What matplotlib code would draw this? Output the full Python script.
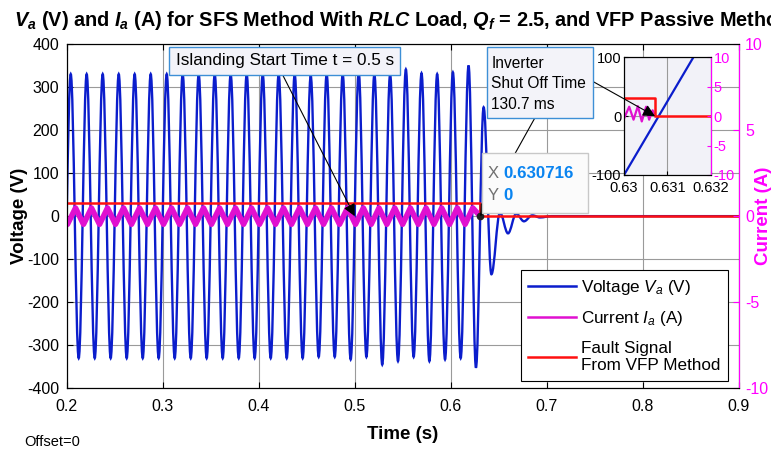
import matplotlib
matplotlib.use('Agg')
import matplotlib.pyplot as plt
from matplotlib.path import Path
from matplotlib.patches import PathPatch, Rectangle
from matplotlib.lines import Line2D

plt.rcParams['font.family'] = ['Liberation Sans', 'DejaVu Sans']
plt.rcParams['axes.unicode_minus'] = False
plt.rcParams['mathtext.fontset'] = 'custom'
plt.rcParams['mathtext.rm'] = 'Liberation Sans'
plt.rcParams['mathtext.it'] = 'Liberation Sans:italic'
plt.rcParams['mathtext.bf'] = 'Liberation Sans:bold:italic'

######################################################################
#####     DATA     ###########################
######################################################################

# voltage V_a: times (s) and values (V) of each peak / trough
v_t = [0.1958, 0.2042, 0.2125, 0.2208, 0.2292, 0.2375, 0.2458, 0.2542, 0.2625, 0.2708,
       0.2792, 0.2875, 0.2958, 0.3042, 0.3125, 0.3208, 0.3292, 0.3375, 0.3458, 0.3542,
       0.3625, 0.3708, 0.3792, 0.3875, 0.3958, 0.4042, 0.4125, 0.4208, 0.4292, 0.4375,
       0.4458, 0.4542, 0.4625, 0.4708, 0.4792, 0.4875, 0.4958, 0.5042, 0.5122, 0.5205,
       0.5287, 0.5369, 0.5451, 0.5533, 0.5614, 0.5696, 0.5778, 0.5859, 0.5941, 0.6023,
       0.6104, 0.6186, 0.6263, 0.6343, 0.6424, 0.6513, 0.6597, 0.6683, 0.6763, 0.6850,
       0.6930, 0.7050, 0.9000]
v_val = [-330, 330, -330, 330, -330, 330, -330, 330, -330, 330,
         -330, 330, -330, 330, -330, 330, -330, 330, -330, 330,
         -330, 330, -330, 330, -330, 330, -330, 330, -330, 330,
         -330, 326, -327, 330, -327, 330, -333, 334, -327, 330,
         -345, 330, -337, 341, -327, 332, -337, 330, -333, 334,
         -330, 350, -352, 253, -135, 8, -40, 6, -12, 2,
         -3, 0, 0]

# current I_a, read against the voltage scale (it is drawn on it)
i_t = [0.2000, 0.2008, 0.2092, 0.2175, 0.2258, 0.2342, 0.2425, 0.2508, 0.2592, 0.2675,
       0.2758, 0.2842, 0.2925, 0.3008, 0.3092, 0.3175, 0.3258, 0.3342, 0.3425, 0.3508,
       0.3592, 0.3675, 0.3758, 0.3842, 0.3925, 0.4008, 0.4092, 0.4175, 0.4258, 0.4342,
       0.4425, 0.4508, 0.4592, 0.4675, 0.4758, 0.4842, 0.4925, 0.5008, 0.5090, 0.5172,
       0.5253, 0.5335, 0.5417, 0.5499, 0.5580, 0.5662, 0.5743, 0.5825, 0.5906, 0.5988,
       0.6069, 0.6150, 0.6230, 0.6307]
i_val = [-17, -19, 19, -19, 19, -19, 19, -19, 19, -19,
         19, -19, 19, -19, 19, -19, 19, -19, 19, -19,
         19, -19, 19, -19, 19, -19, 19, -19, 19, -19,
         19, -19, 19, -19, 19, -19, 19, -19, 19, -19,
         19, -19, 19, -19, 19, -19, 19, -19, 19, -19,
         19, -19, 19, 0]

trip_t = 0.630716

# fault signal from the VFP method
fault_t = [0.2, trip_t, trip_t, 0.9]
fault_val = [30, 30, 0, 0]

# zoomed inset around the shut off
inset_v_t = [0.63, 0.6316]
inset_v = [-100, 100]
inset_i_t = [0.63, 0.63012, 0.63022, 0.63032, 0.63041, 0.63051, 0.63058, 0.63066, trip_t]
inset_i = [-4, 16, -6, 17, -9, 16, -6, 10, 0]
inset_fault_t = [0.63, trip_t, trip_t, 0.632]
inset_fault = [30, 30, 0, 0]

x_ticks = [0.2, 0.3, 0.4, 0.5, 0.6, 0.7, 0.8, 0.9]
v_ticks = [-400, -300, -200, -100, 0, 100, 200, 300, 400]
i_ticks = [-10, -5, 0, 5, 10]
inset_x_ticks = [0.63, 0.631, 0.632]
inset_v_ticks = [-100, 0, 100]

blue = '#0b1dcc'
mag = '#e010d0'
mag_axis = '#ff00ff'
red = '#ff1010'
W, H = 771, 454


def px(x, y):
    # figure pixel -> figure fraction
    return x / W, 1 - y / H


def wave_path(tt, vv):
    # smooth curve through the peaks / troughs
    verts = [(tt[0], vv[0])]
    codes = [Path.MOVETO]
    for i in range(1, len(tt)):
        h = tt[i] - tt[i - 1]
        verts += [(tt[i - 1] + 0.3634 * h, vv[i - 1]), (tt[i] - 0.3634 * h, vv[i]), (tt[i], vv[i])]
        codes += [Path.CURVE4] * 3
    return Path(verts, codes)


fig = plt.figure(figsize=(7.71, 4.54), dpi=100)
ax = fig.add_axes([66.7 / W, 1 - 388.3 / H, 672 / W, 344.3 / H])

ax.add_patch(PathPatch(wave_path(v_t, v_val), fill=False, edgecolor=blue, lw=1.7, zorder=2))
ax.plot(i_t, i_val, color=mag, lw=4.0, solid_joinstyle='round', zorder=3)
ax.plot(fault_t, fault_val, color=red, lw=1.8, zorder=4)
ax.plot([trip_t], [0], 'o', ms=4.5, color='#202020', zorder=6)

ax.set_xlim(0.2, 0.9)
ax.set_ylim(-400, 400)
ax.set_xticks(x_ticks)
ax.set_xticklabels([f'{t:g}' for t in x_ticks])
ax.set_yticks(v_ticks)
ax.tick_params(direction='in', labelsize=11.5, top=True, length=4)
ax.tick_params(axis='x', pad=7.5)
ax.tick_params(axis='y', pad=5.5)
ax.grid(True, color='#9a9a9a', lw=0.8)
ax.set_axisbelow(True)
ax.set_xlabel('Time (s)', fontsize=13.5, fontweight='bold', labelpad=9)
ax.set_ylabel('Voltage (V)', fontsize=13.5, fontweight='bold')
ax.yaxis.set_label_coords(-0.057, 0.5)
ax.set_title(r'$\mathbf{V}_\mathbf{a}$ (V) and $\mathbf{I}_\mathbf{a}$ (A) for SFS Method With '
             r'$\mathbf{RLC}$ Load, $\mathbf{Q}_\mathbf{f}$ = 2.5, and VFP Passive Method',
             fontsize=14.3, fontweight='bold', pad=13)

ax2 = ax.twinx()
ax2.set_ylim(-10, 10)
ax2.set_yticks(i_ticks)
ax2.tick_params(direction='in', labelsize=11.5, colors=mag_axis, length=4, pad=4.5)
ax2.spines['right'].set_color(mag_axis)
fig.text(*px(763, 216), 'Current (A)', rotation=90, ha='center', va='center',
         fontsize=13.5, fontweight='bold', color=mag_axis)

handles = [Line2D([], [], color=blue, lw=1.8),
           Line2D([], [], color=mag, lw=1.8),
           Line2D([], [], color=red, lw=1.8)]
labels = ['Voltage $V_a$ (V)', 'Current $I_a$ (A)', 'Fault Signal\nFrom VFP Method']
leg = ax.legend(handles, labels, loc='lower right', bbox_to_anchor=(0.9845, 0.022),
                borderaxespad=0, fontsize=12.3, handlelength=2.8, handletextpad=0.3,
                labelspacing=0.72, borderpad=0.45, fancybox=False,
                edgecolor='black', framealpha=1)
leg.get_frame().set_linewidth(0.8)

# inset
ins = fig.add_axes([624 / W, 1 - 175 / H, 86.7 / W, 117.7 / H])
ins.set_facecolor('#f2f2f8')
ins.plot(inset_v_t, inset_v, color=blue, lw=1.6)
ins.plot(inset_i_t, inset_i, color=mag, lw=1.6)
ins.plot(inset_fault_t, inset_fault, color=red, lw=1.8)
ins.set_xlim(0.63, 0.632)
ins.set_ylim(-100, 100)
ins.set_xticks(inset_x_ticks)
ins.set_xticklabels([f'{t:g}' for t in inset_x_ticks])
ins.set_yticks(inset_v_ticks)
ins.tick_params(direction='in', labelsize=10.5, length=3, pad=2)
ins.tick_params(axis='x', pad=4)
ins.grid(True, color='#9a9a9a', lw=0.8)
ins2 = ins.twinx()
ins2.set_ylim(-10, 10)
ins2.set_yticks(i_ticks)
ins2.tick_params(direction='in', labelsize=10.5, colors=mag_axis, length=3, pad=2)
ins2.spines['right'].set_color(mag_axis)

# annotations
arrow = dict(arrowstyle='-|>', color='k', lw=0.8, mutation_scale=18, shrinkA=0, shrinkB=0)
ax.annotate('', xy=(0.5, 0), xytext=px(282.7, 75), textcoords='figure fraction',
            arrowprops=arrow, zorder=7)
ax.annotate('', xy=(trip_t, 0), xytext=px(535, 117.7), textcoords='figure fraction',
            arrowprops=arrow, zorder=7)
ins.annotate('', xy=(trip_t, 0), xytext=px(593.3, 81.7), textcoords='figure fraction',
             arrowprops=arrow, zorder=7, annotation_clip=False)

fig.add_artist(Rectangle(px(169.3, 75), 230.7 / W, 28.3 / H, transform=fig.transFigure,
                         facecolor='#f3f3f9', edgecolor='#3d8fd6', lw=1))
fig.text(*px(284.7, 61), 'Islanding Start Time t = 0.5 s', ha='center', va='center', fontsize=12.3)

fig.add_artist(Rectangle(px(487.3, 117.7), 106 / W, 70.4 / H, transform=fig.transFigure,
                         facecolor='#f3f3f9', edgecolor='#3d8fd6', lw=1))
fig.text(*px(491.5, 84), 'Inverter\nShut Off Time\n130.7 ms', ha='left', va='center',
         fontsize=11.2, linespacing=1.48)

fig.add_artist(Rectangle(px(481.7, 213.3), 106 / W, 60 / H, transform=fig.transFigure,
                         facecolor='#fbfbfb', edgecolor='#c8c8c8', lw=1))
fig.text(*px(488, 174), 'X', ha='left', va='center', fontsize=12, color='#707070')
fig.text(*px(503, 174), f'{trip_t:g}', ha='left', va='center', fontsize=12.2,
         fontweight='bold', color='#0a84f0')
fig.text(*px(488, 196), 'Y', ha='left', va='center', fontsize=12, color='#707070')
fig.text(*px(503, 196), '0', ha='left', va='center', fontsize=12.2,
         fontweight='bold', color='#0a84f0')

fig.text(*px(24, 442), 'Offset=0', ha='left', va='center', fontsize=10.5)

fig.savefig('out.png', dpi=100, facecolor='white')
